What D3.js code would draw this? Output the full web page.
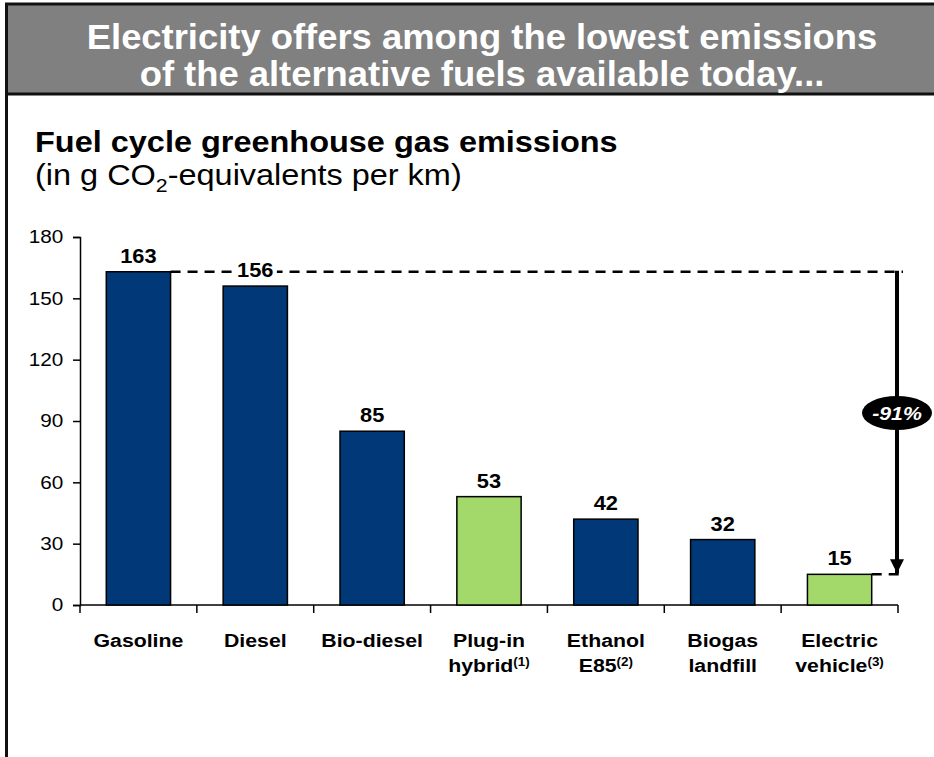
<!DOCTYPE html>
<html>
<head>
<meta charset="utf-8">
<script src="https://cdn.jsdelivr.net/npm/d3@7"></script>
<style>
  body { margin: 0; background: #fff; }
  svg { display: block; font-family: "Liberation Sans", Arial, sans-serif; }
</style>
</head>
<body>
<div id="chart"></div>
<script>
const width = 934;
const height = 757;

// data
const categories = ["Gasoline", "Diesel", "Bio-diesel", "Plug-in hybrid", "Ethanol E85", "Biogas landfill", "Electric vehicle"];
const labelLines = [["Gasoline"], ["Diesel"], ["Bio-diesel"], ["Plug-in", "hybrid", "(1)"], ["Ethanol", "E85", "(2)"], ["Biogas", "landfill"], ["Electric", "vehicle", "(3)"]];
const values = [163, 156, 85, 53, 42, 32, 15];
const isElectric = [false, false, false, true, false, false, true];
const yTicks = [0, 30, 60, 90, 120, 150, 180];
const reductionLabel = "-91%";

const navy = "#003878";
const green = "#a3d86a";
// the slide text is a bit wider than normal Arial
const sx = 1.12;
const place = (px, py, s = sx) => `translate(${px},${py}) scale(${s},1)`;

const svg = d3.select("#chart").append("svg")
    .attr("width", width)
    .attr("height", height);

// header box
svg.append("rect")
    .attr("x", 6.5).attr("y", 4)
    .attr("width", width + 10).attr("height", 90)
    .attr("fill", "#808080")
    .attr("stroke", "#111")
    .attr("stroke-width", 3);

// left frame line down the page
svg.append("line")
    .attr("x1", 6.5).attr("x2", 6.5)
    .attr("y1", 94).attr("y2", height)
    .attr("stroke", "#111")
    .attr("stroke-width", 3);

const titleLines = ["Electricity offers among the lowest emissions", "of the alternative fuels available today..."];
svg.append("g").selectAll("text")
    .data(titleLines)
    .enter().append("text")
    .attr("transform", (d, i) => place(482, 49 + i * 37, 1.04))
    .attr("text-anchor", "middle")
    .attr("fill", "#fff")
    .style("font-size", "35px")
    .style("font-weight", "bold")
    .text(d => d);

// subtitle
svg.append("text")
    .attr("transform", place(35, 152))
    .style("font-size", "29px")
    .style("font-weight", "bold")
    .text("Fuel cycle greenhouse gas emissions");

const sub = svg.append("text")
    .attr("transform", place(35, 185))
    .style("font-size", "29px");
sub.append("tspan").text("(in g CO");
sub.append("tspan").attr("dy", 7).style("font-size", "19px").text("2");
sub.append("tspan").attr("dy", -7).text("-equivalents per km)");

// scales
const x = d3.scaleBand()
    .domain(categories)
    .range([80, 898])
    .paddingInner(0.45)
    .paddingOuter(0.225);

const y = d3.scaleLinear()
    .domain([0, 180])
    .range([605, 237]);

// y axis
const yAxis = svg.append("g")
    .attr("transform", "translate(80,0)")
    .call(d3.axisLeft(y).tickValues(yTicks).tickSize(7).tickPadding(8));
yAxis.select(".domain").attr("stroke", "#000").attr("stroke-width", 1.5);
yAxis.selectAll(".tick line").attr("stroke", "#000").attr("stroke-width", 1.5);
yAxis.selectAll(".tick text")
    .attr("fill", "#000")
    .attr("transform", `scale(${sx},1)`)
    .style("font-size", "18.5px")
    .style("font-family", "Liberation Sans, Arial, sans-serif");

// x axis line with category separator ticks
const bounds = d3.range(categories.length + 1).map(i => 80 + i * x.step());
svg.append("line")
    .attr("x1", 80).attr("x2", 898)
    .attr("y1", y(0)).attr("y2", y(0))
    .attr("stroke", "#000").attr("stroke-width", 1.5);
svg.append("g").selectAll("line")
    .data(bounds)
    .enter().append("line")
    .attr("x1", d => d).attr("x2", d => d)
    .attr("y1", y(0)).attr("y2", y(0) + 8)
    .attr("stroke", "#000").attr("stroke-width", 1.5);

// dashed reference lines
const gasTop = y(values[0]);
const evTop = y(values[values.length - 1]);
const arrowX = 897;
svg.append("line")
    .attr("x1", x(categories[0]) + x.bandwidth()).attr("x2", 903)
    .attr("y1", gasTop).attr("y2", gasTop)
    .attr("stroke", "#000").attr("stroke-width", 2.5)
    .attr("stroke-dasharray", "10,7");
svg.append("line")
    .attr("x1", x(categories[6]) + x.bandwidth()).attr("x2", 903)
    .attr("y1", evTop).attr("y2", evTop)
    .attr("stroke", "#000").attr("stroke-width", 2.5)
    .attr("stroke-dasharray", "10,7");

// bars
svg.append("g").selectAll("rect")
    .data(values)
    .enter().append("rect")
    .attr("x", (d, i) => x(categories[i]))
    .attr("y", d => y(d))
    .attr("width", x.bandwidth())
    .attr("height", d => y(0) - y(d))
    .attr("fill", (d, i) => isElectric[i] ? green : navy)
    .attr("stroke", "#000")
    .attr("stroke-width", 1.5);

// value labels
const vl = svg.append("g").selectAll("g")
    .data(values)
    .enter().append("g")
    .attr("transform", (d, i) => place(x(categories[i]) + x.bandwidth() / 2, y(d) - 9));
vl.append("text")
    .attr("text-anchor", "middle")
    .style("font-size", "19.5px")
    .style("font-weight", "bold")
    .text(d => d)
    .each(function(d, i) {
        if (i === 1) {
            const bb = this.getBBox();
            d3.select(this.parentNode).insert("rect", "text")
                .attr("x", bb.x - 3).attr("y", bb.y)
                .attr("width", bb.width + 6).attr("height", bb.height)
                .attr("fill", "#fff");
        }
    });

// arrow
svg.append("defs").append("marker")
    .attr("id", "arrowhead")
    .attr("viewBox", "0 -5 10 10")
    .attr("refX", 10).attr("refY", 0)
    .attr("orient", "auto")
    .attr("markerUnits", "userSpaceOnUse")
    .attr("markerWidth", 16).attr("markerHeight", 14)
    .append("path")
    .attr("d", "M0,-5L10,0L0,5Z")
    .attr("fill", "#000");

svg.append("line")
    .attr("x1", arrowX).attr("x2", arrowX)
    .attr("y1", gasTop - 1).attr("y2", evTop - 1)
    .attr("stroke", "#000").attr("stroke-width", 4)
    .attr("marker-end", "url(#arrowhead)");

const midY = 413;
svg.append("ellipse")
    .attr("cx", arrowX).attr("cy", midY)
    .attr("rx", 35).attr("ry", 17)
    .attr("fill", "#000");
svg.append("text")
    .attr("transform", place(arrowX, midY + 7))
    .attr("text-anchor", "middle")
    .attr("fill", "#fff")
    .style("font-size", "19px")
    .style("font-weight", "bold")
    .style("font-style", "italic")
    .text(reductionLabel);

// category labels
const cl = svg.append("g").selectAll("text")
    .data(labelLines)
    .enter().append("text")
    .attr("text-anchor", "middle")
    .attr("transform", (d, i) => place(x(categories[i]) + x.bandwidth() / 2, 0))
    .style("font-size", "19px")
    .style("font-weight", "bold");
cl.each(function(lines) {
    const t = d3.select(this);
    t.append("tspan").attr("x", 0).attr("y", 647).text(lines[0]);
    if (lines.length > 1) {
        const l2 = t.append("tspan").attr("x", 0).attr("y", 672);
        l2.append("tspan").text(lines[1]);
        if (lines[2]) {
            l2.append("tspan").attr("dy", -6).style("font-size", "12px").text(lines[2]);
        }
    }
});
</script>
</body>
</html>
